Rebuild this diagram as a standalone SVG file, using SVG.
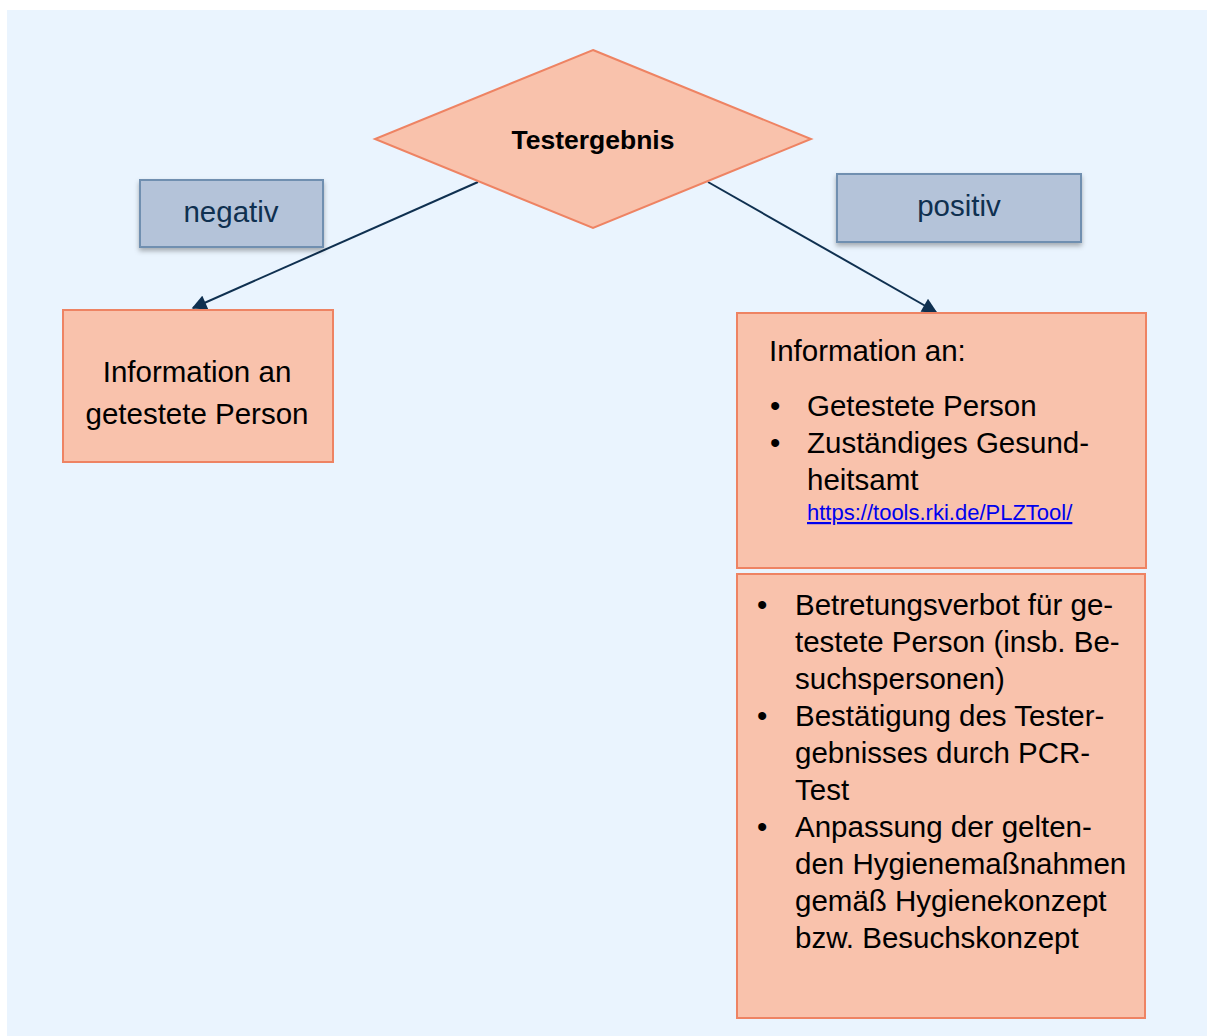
<svg xmlns="http://www.w3.org/2000/svg" width="1207" height="1036" viewBox="0 0 1207 1036">
<style>
.t{font-family:"Liberation Sans",Arial,sans-serif;font-size:29.5px;fill:#000}
.lbl{font-family:"Liberation Sans",Arial,sans-serif;font-size:29.5px;fill:#0F3050;text-anchor:middle}
.box{fill:#F9C2AC;stroke:#EE8363;stroke-width:2}
.tag{fill:#B4C3D9;stroke:#6F8FB0;stroke-width:2;filter:url(#sh)}
.con{stroke:#0F3050;stroke-width:2;fill:none;marker-end:url(#ah)}
</style>
<defs>
<marker id="ah" viewBox="0 0 10 10" refX="9" refY="5" markerWidth="17" markerHeight="15" markerUnits="userSpaceOnUse" orient="auto"><path d="M0,0 L10,5 L0,10 z" fill="#0F3050"/></marker>
<filter id="sh" x="-10%" y="-10%" width="130%" height="140%"><feDropShadow dx="0" dy="3" stdDeviation="2.5" flood-color="#000" flood-opacity="0.3"/></filter>
</defs>
<rect x="0" y="0" width="1207" height="1036" fill="#fff"/>
<rect x="7" y="10" width="1200" height="1026" fill="#EAF4FE"/>
<g id="connectors">
<line class="con" x1="478" y1="182" x2="193" y2="308"/>
<line class="con" x1="708" y1="182" x2="936" y2="312"/>
</g>
<g id="decision">
<polygon points="593,50 811,139 593,228 375,139" fill="#F9C2AC" stroke="#EE8363" stroke-width="2"/>
<text x="593" y="149" class="t" style="font-size:26.5px;font-weight:bold" text-anchor="middle">Testergebnis</text>
</g>
<g id="label-negativ">
<rect class="tag" x="140" y="180" width="183" height="67"/>
<text class="lbl" x="231" y="222">negativ</text>
</g>
<g id="label-positiv">
<rect class="tag" x="837" y="174" width="244" height="68"/>
<text class="lbl" x="959" y="216">positiv</text>
</g>
<g id="node-negativ">
<rect class="box" x="63" y="310" width="270" height="152"/>
<text class="t" x="197" y="382" text-anchor="middle">Information an</text>
<text class="t" x="197" y="424" text-anchor="middle">getestete Person</text>
</g>
<g id="node-positiv-info">
<rect class="box" x="737" y="313" width="409" height="255"/>
<text class="t" x="769" y="361">Information an:</text>
<text class="t" x="770" y="416">•</text>
<text class="t" x="807" y="416">Getestete Person</text>
<text class="t" x="770" y="453">•</text>
<text class="t" x="807" y="453">Zuständiges Gesund-</text>
<text class="t" x="807" y="490">heitsamt</text>
<text x="807" y="520" style="font-family:'Liberation Sans',Arial,sans-serif;font-size:22px;fill:#0000EE;text-decoration:underline">https://tools.rki.de/PLZTool/</text>
</g>
<g id="node-positiv-massnahmen">
<rect class="box" x="737" y="574" width="408" height="444"/>
<text class="t" x="757" y="615">•</text>
<text class="t" x="795" y="615">Betretungsverbot für ge-</text>
<text class="t" x="795" y="652">testete Person (insb. Be-</text>
<text class="t" x="795" y="689">suchspersonen)</text>
<text class="t" x="757" y="726">•</text>
<text class="t" x="795" y="726">Bestätigung des Tester-</text>
<text class="t" x="795" y="763">gebnisses durch PCR-</text>
<text class="t" x="795" y="800">Test</text>
<text class="t" x="757" y="837">•</text>
<text class="t" x="795" y="837">Anpassung der gelten-</text>
<text class="t" x="795" y="874">den Hygienemaßnahmen</text>
<text class="t" x="795" y="911">gemäß Hygienekonzept</text>
<text class="t" x="795" y="948">bzw. Besuchskonzept</text>
</g>
</svg>
